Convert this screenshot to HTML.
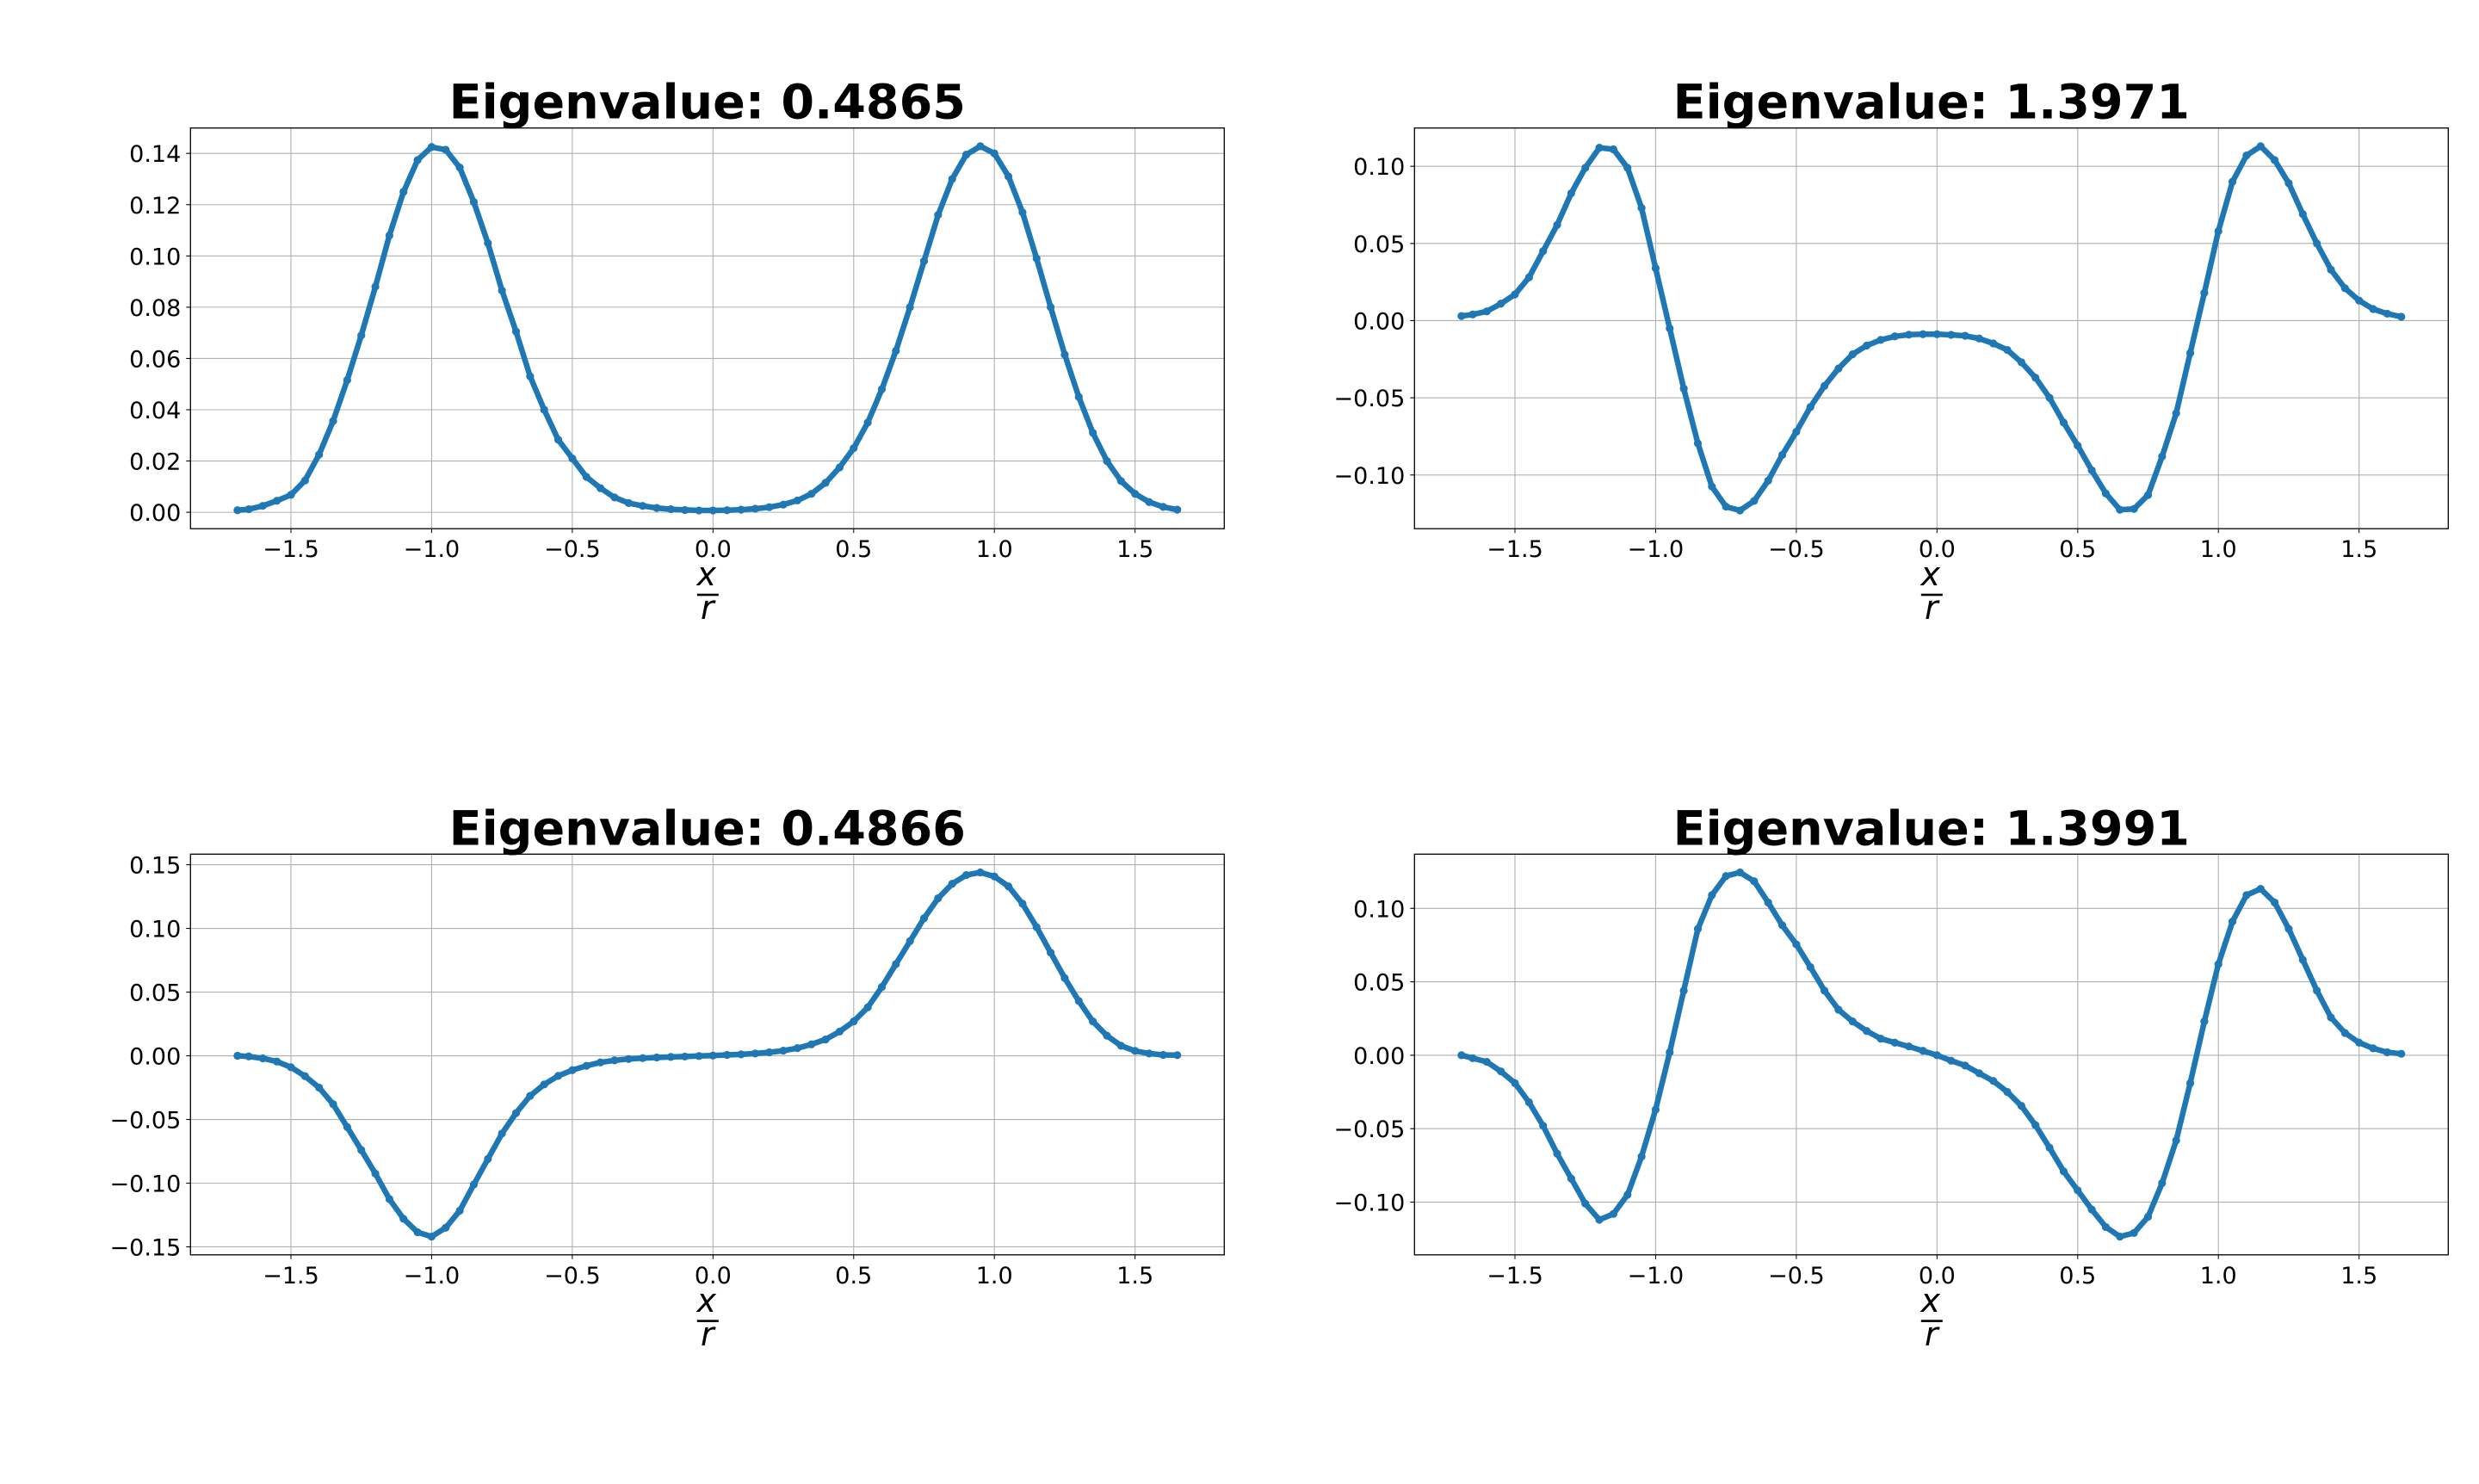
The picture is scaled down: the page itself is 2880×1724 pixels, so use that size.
<!DOCTYPE html>
<html><head><meta charset="utf-8"><style>
html,body{margin:0;padding:0;background:#fff;}
svg text{font-family:"DejaVu Sans","Liberation Sans",sans-serif;}
</style></head><body>
<svg id="fig" xmlns="http://www.w3.org/2000/svg" width="2880" height="1719" viewBox="0 0 2880 1719"></svg>
<script>
const xs = [-1.69,-1.65,-1.6,-1.55,-1.5,-1.45,-1.4,-1.35,-1.3,-1.25,-1.2,-1.15,-1.1,-1.05,-1.0,-0.95,-0.9,-0.85,-0.8,-0.75,-0.7,-0.65,-0.6,-0.55,-0.5,-0.45,-0.4,-0.35,-0.3,-0.25,-0.2,-0.15,-0.1,-0.05,0,0.05,0.1,0.15,0.2,0.25,0.3,0.35,0.4,0.45,0.5,0.55,0.6,0.65,0.7,0.75,0.8,0.85,0.9,0.95,1.0,1.05,1.1,1.15,1.2,1.25,1.3,1.35,1.4,1.45,1.5,1.55,1.6,1.65];
const series1 = [.0008,.0012,.0025,.0045,.0068,.0124,.0225,.0356,.0516,.069,.088,.108,.125,.1374,.1425,.1414,.1345,.121,.105,.0865,.0705,.053,.040,.0283,.021,.0138,.0094,.0058,.0036,.0025,.0017,.0012,.0009,.0007,.0007,.0008,.0010,.0014,.0020,.0030,.0046,.0072,.0115,.0175,.025,.035,.048,.063,.080,.098,.116,.130,.1395,.1428,.140,.131,.117,.099,.080,.0615,.045,.031,.020,.0122,.0072,.0040,.0021,.0010];
const series2 = [.003,.004,.006,.011,.017,.028,.045,.062,.0825,.099,.112,.111,.099,.073,.034,-.005,-.044,-.0795,-.1075,-.1205,-.123,-.1168,-.1037,-.087,-.072,-.056,-.0423,-.031,-.0218,-.0162,-.0125,-.0102,-.0091,-.0088,-.0088,-.0092,-.0098,-.0116,-.0148,-.019,-.027,-.037,-.050,-.066,-.081,-.097,-.112,-.1225,-.122,-.113,-.088,-.060,-.021,.018,.058,.090,.107,.113,.104,.089,.069,.050,.033,.021,.013,.0075,.0045,.0025];
const series3 = [0,-.0005,-.002,-.0045,-.009,-.016,-.025,-.038,-.056,-.074,-.0925,-.1125,-.128,-.1385,-.142,-.135,-.1216,-.101,-.081,-.061,-.045,-.0315,-.0225,-.0158,-.0113,-.0079,-.0052,-.0036,-.0025,-.0018,-.0013,-.0009,-.0006,-.0002,.0002,.0007,.0011,.0018,.0027,.004,.006,.009,.0128,.019,.027,.038,.054,.072,.090,.108,.1237,.135,.1419,.144,.1408,.133,.1194,.101,.081,.061,.043,.027,.0158,.0079,.0038,.0018,.0007,.0005];
const series4 = [0,-.002,-.0045,-.011,-.019,-.032,-.048,-.067,-.084,-.101,-.112,-.108,-.095,-.069,-.037,.002,.044,.086,.109,.122,.1245,.1185,.104,.0885,.0755,.060,.044,.031,.023,.0165,.0113,.0086,.006,.003,0,-.0037,-.007,-.0123,-.0175,-.025,-.0345,-.0476,-.063,-.079,-.092,-.105,-.117,-.1235,-.121,-.110,-.087,-.058,-.019,.023,.062,.091,.109,.1133,.104,.086,.065,.044,.0257,.0152,.0086,.0047,.002,.001];
const xticks = [-1.5,-1.0,-0.5,0.0,0.5,1.0,1.5];
const yticks1 = [0,0.02,0.04,0.06,0.08,0.10,0.12,0.14];
const yticks2 = [-0.10,-0.05,0,0.05,0.10];
const yticks3 = [-0.15,-0.10,-0.05,0,0.05,0.10,0.15];
const yticks4 = [-0.10,-0.05,0,0.05,0.10];
const titles = ["Eigenvalue: 0.4865","Eigenvalue: 1.3971","Eigenvalue: 0.4866","Eigenvalue: 1.3991"];

const NS="http://www.w3.org/2000/svg";
const svg=document.getElementById('fig');
function mk(tag,attrs,parent){const e=document.createElementNS(NS,tag);for(const k in attrs)e.setAttribute(k,attrs[k]);parent.appendChild(e);return e;}
function fmt(v,d){const s=Math.abs(v).toFixed(d);return (v<-1e-9?'\u2212':'')+s;}

function panel(idx,left,top,ys,yticks,title){
  const W=1201,H=465.5;
  const g=mk('g',{},svg);
  
  
  const xmin=Math.min(...xs),xmax=Math.max(...xs),xr=xmax-xmin;
  const x0=xmin-0.05*xr,x1=xmax+0.05*xr;
  const ymin=Math.min(...ys),ymax=Math.max(...ys),yr=ymax-ymin;
  const y0=ymin-0.05*yr,y1=ymax+0.05*yr;
  const X=v=>left+(v-x0)/(x1-x0)*W;
  const Y=v=>top+H-(v-y0)/(y1-y0)*H;
  const grid=mk('g',{stroke:'#b0b0b0','stroke-width':1.1},g);
  
  
  xticks.forEach(t=>{
    mk('line',{x1:X(t),x2:X(t),y1:top,y2:top+H},grid);
    mk('line',{x1:X(t),x2:X(t),y1:top+H,y2:top+H+5,stroke:'#000'},g);
    const tx=mk('text',{x:X(t),y:top+H+33,'font-size':27,'text-anchor':'middle',fill:'#000'},g);
    
    
    tx.textContent=fmt(t,1);
  });
  yticks.forEach(t=>{
    mk('line',{x1:left,x2:left+W,y1:Y(t),y2:Y(t)},grid);
    mk('line',{x1:left-5,x2:left,y1:Y(t),y2:Y(t),stroke:'#000','stroke-width':1.1},g);
    const ty=mk('text',{x:left-11,y:Y(t)+10,'font-size':27,'text-anchor':'end',fill:'#000'},g);
    
    
    ty.textContent=fmt(t,2);
  });
  const pts=xs.map((x,i)=>X(x).toFixed(1)+','+Y(ys[i]).toFixed(1)).join(' ');
  const band=mk('polyline',{points:pts,fill:'none',stroke:'#1f77b4','stroke-width':6.5,'stroke-linejoin':'round','stroke-linecap':'round'},g);
  
  
  const line=mk('polyline',{points:pts,fill:'none',stroke:'#1f77b4','stroke-width':2.5},g);
  
  
  const mg=mk('g',{fill:'#1f77b4'},g);
  
  
  xs.forEach((x,i)=>{
    const c=mk('circle',{cx:X(x),cy:Y(ys[i]),r:4.6},mg);
    
    
  });
  const fr=mk('rect',{x:left,y:top,width:W,height:H,fill:'none',stroke:'#000','stroke-width':1.3},g);
  
  
  const cx=left+W/2;
  const tt=mk('text',{x:cx,y:top-11,'font-size':55.6,'font-weight':'bold','text-anchor':'middle',fill:'#000'},g);
  
  
  tt.textContent=title;
  const xl=mk('g',{},g);
  
  
  const t1=mk('text',{x:cx-1,y:top+H+66,'font-size':38,'font-style':'italic','text-anchor':'middle',fill:'#000'},xl);
  t1.textContent='x';
  mk('rect',{x:cx-12,y:top+H+75.5,width:25,height:2.6,fill:'#000'},xl);
  const t2=mk('text',{x:cx,y:top+H+105,'font-size':38,'font-style':'italic','text-anchor':'middle',fill:'#000'},xl);
  t2.textContent='r';
}
panel(0,221.3,148.7,series1,yticks1,titles[0]);
panel(1,1643.3,148.7,series2,yticks2,titles[1]);
panel(2,221.3,992.3,series3,yticks3,titles[2]);
panel(3,1643.3,992.3,series4,yticks4,titles[3]);
</script>
</body></html>
